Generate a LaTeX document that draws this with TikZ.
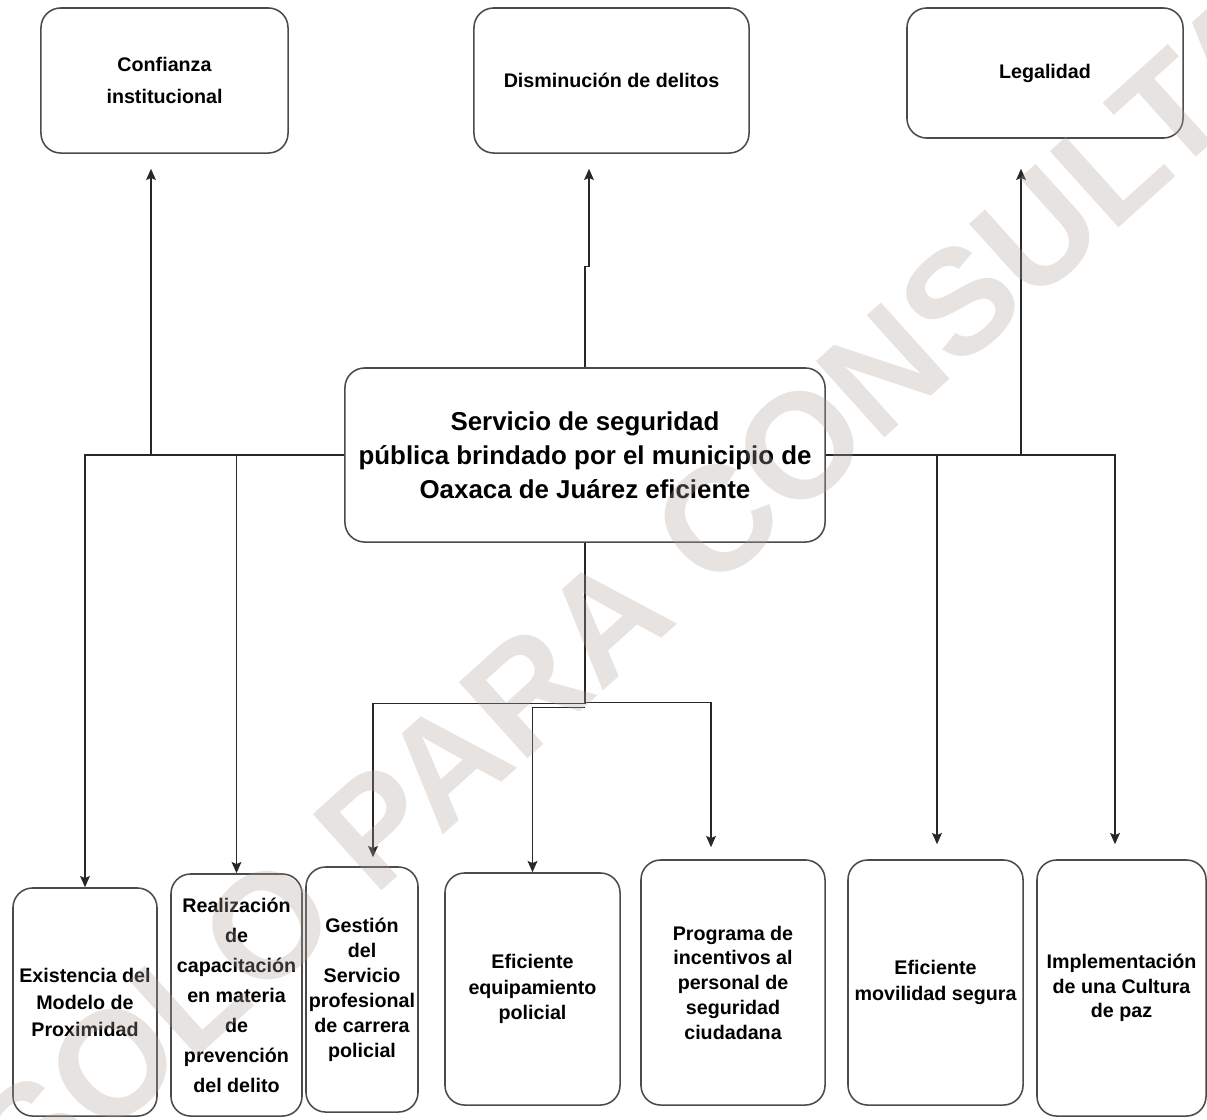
\documentclass[tikz,border=0pt]{standalone}
\usepackage{fontspec}
\setmainfont{Liberation Sans}
\usetikzlibrary{calc,arrows.meta}

\definecolor{borde}{RGB}{75,75,75}
\definecolor{trazo}{RGB}{40,40,40}
\definecolor{sello}{RGB}{175,162,152}

\tikzset{
	caja/.style={draw=borde, line width=1.1pt, rounded corners=14pt, align=center, inner sep=0pt},
	textochico/.style={font=\fontsize{14}{#1}\selectfont\bfseries},
	textochico/.default={18},
	flecha/.style={draw=trazo, line width=0.9pt, -{Stealth[length=8pt,width=7pt,inset=1.5pt]}},
	linea/.style={draw=trazo, line width=0.9pt},
	marcaagua/.style={text=sello, text opacity=0.3, rotate=42, inner sep=0pt,
		font=\fontsize{106}{106}\selectfont\bfseries}
}

\begin{document}
\begin{tikzpicture}[x=0.025cm, y=-0.025cm]
			%%%%% START %%%%%
			\useasboundingbox (0,0) rectangle (1207,1119);
			
			% efectos
			\node[caja, textochico=22.8, minimum width=6.175cm, minimum height=3.625cm] (conf) at (164.5, 80.5) {Confianza\\institucional};
			\node[caja, textochico, minimum width=6.875cm, minimum height=3.625cm] (dism) at (611.5, 80.5) {Disminución de delitos};
			\node[caja, textochico, minimum width=6.9cm, minimum height=3.25cm] (legal) at (1045, 73) {Legalidad};
			
			% problema central
			\node[caja, font=\fontsize{18.4}{24.2}\selectfont\bfseries, minimum width=12cm, minimum height=4.35cm] (main) at (585, 455)
				{Servicio de seguridad\\pública brindado por el municipio de\\Oaxaca de Juárez eficiente};
			
			% medios
			\node[caja, textochico=19.2, minimum width=3.6cm, minimum height=5.7cm] (exis) at (85, 1002) {Existencia del\\Modelo de\\Proximidad};
			\node[caja, textochico=21.3, minimum width=3.275cm, minimum height=6.05cm] (real) at (236.5, 995) {Realización\\de\\capacitación\\en materia\\de\\prevención\\del delito};
			\node[caja, textochico=17.8, minimum width=2.8cm, minimum height=6.125cm] (gest) at (362, 989.5) {Gestión\\del\\Servicio\\profesional\\de carrera\\policial};
			\node[caja, textochico, minimum width=4.375cm, minimum height=5.8cm] (equi) at (532.5, 989) {Eficiente\\equipamiento\\policial};
			\node[caja, textochico=17.6, minimum width=4.6cm, minimum height=6.125cm] (prog) at (733, 982.5) {Programa de\\incentivos al\\personal de\\seguridad\\ciudadana};
			\node[caja, textochico, minimum width=4.375cm, minimum height=6.125cm] (movi) at (935.5, 982.5) {Eficiente\\movilidad segura};
			\node[caja, textochico=17.5, minimum width=4.225cm, minimum height=6.4cm] (impl) at (1121.5, 988) {Implementación\\de una Cultura\\de paz};
			
			% hacia arriba
			\draw[flecha] (main.west) -| ($(conf.south)+(-13.5,15)$);
			\draw[flecha] (main.north) -- ++(0,-101) -| ($(dism.south)+(-22.5,15)$);
			\draw[flecha] (main.east) -| ($(legal.south)+(-24,30)$);
			
			% hacia abajo, laterales
			\draw[flecha] (main.west) -| (exis.north);
			\draw[flecha] (main.west) -| (real.north);
			\draw[flecha] (main.east) -| ($(movi.north)+(1.5,-15)$);
			\draw[flecha] (main.east) -| ($(impl.north)+(-6.5,-15)$);
			
			% hacia abajo, centro
			\coordinate (nudo) at ($(main.south)+(0,161)$);
			\draw[linea] (main.south) -- (nudo);
			\draw[flecha] (nudo) -| ($(gest.north)+(11,-9)$);
			\draw[flecha] ($(nudo)+(0,4)$) -| (equi.north);
			\draw[flecha] ($(nudo)+(0,-1)$) -| ($(prog.north)+(-22,-12)$);
			
			% marca de agua
			\node[marcaagua] (sellotexto) at (636, 593) {SOLO PARA CONSULTA};
			
			%%%%% END %%%%%
\end{tikzpicture}
\end{document}
